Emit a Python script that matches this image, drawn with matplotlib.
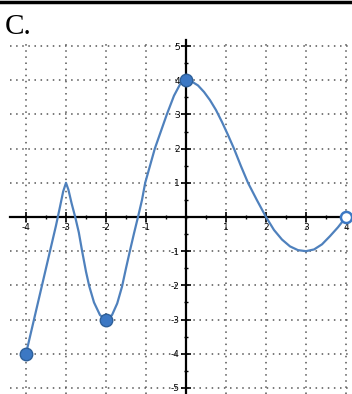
import matplotlib.pyplot as plt
from matplotlib.lines import Line2D
import numpy as np

# Points read along the graph of f on [-4, 4]
curve_x = [-4.0, -3.75, -3.5, -3.25, -3.15, -3.07, -3.0, -2.94, -2.86, -2.77,
           -2.68, -2.6, -2.5, -2.42, -2.3, -2.15, -2.0, -1.85, -1.72, -1.6,
           -1.5, -1.4, -1.3, -1.2, -1.1, -1.02, -0.9, -0.78, -0.63, -0.48,
           -0.3, -0.15, 0.0, 0.15, 0.3, 0.45, 0.6, 0.75, 0.9, 1.05, 1.2,
           1.37, 1.55, 1.77, 2.0, 2.2, 2.4, 2.6, 2.8, 3.0, 3.2, 3.4, 3.6,
           3.8, 4.0]
curve_y = [-4.0, -2.75, -1.5, -0.25, 0.3, 0.75, 1.0, 0.8, 0.4, 0.0,
           -0.45, -0.98, -1.6, -2.02, -2.5, -2.87, -3.0, -2.87, -2.53, -2.04,
           -1.5, -0.98, -0.48, 0.0, 0.5, 1.0, 1.5, 2.0, 2.5, 3.0,
           3.55, 3.88, 4.0, 3.96, 3.85, 3.66, 3.42, 3.13, 2.78, 2.4, 2.0,
           1.5, 1.0, 0.5, 0.0, -0.38, -0.66, -0.86, -0.97, -1.0, -0.95, -0.8,
           -0.56, -0.3, 0.0]

closed_x = [-4, -2, 0]
closed_y = [-4, -3, 4]
open_x = [4]
open_y = [0]

ticks = [-4, -3, -2, -1, 1, 2, 3, 4]
yticks = [-5, -4, -3, -2, -1, 1, 2, 3, 4, 5]

line_blue = "#4f81bd"
dot_blue = "#3c78c4"

fig = plt.figure(figsize=(3.52, 3.94), dpi=100)
ax = fig.add_axes([10 / 352, 0, 342 / 352, 354 / 394])
ax.set_xlim(-4.4, 4.15)
ax.set_ylim(-5.18, 5.18)

# dotted grid
for v in range(-4, 5):
    ax.axvline(v, color="#555555", lw=1.1, ls=(0, (1, 3)), zorder=1)
for h in range(-5, 6):
    if h != 0:
        ax.axhline(h, color="#555555", lw=1.1, ls=(0, (1, 3)), zorder=1)

# axes through the origin
for side in ["top", "right"]:
    ax.spines[side].set_visible(False)
ax.spines["left"].set_position(("data", 0))
ax.spines["bottom"].set_position(("data", 0))
ax.spines["left"].set_linewidth(1.6)
ax.spines["bottom"].set_linewidth(1.6)
ax.spines["left"].set_zorder(2)
ax.spines["bottom"].set_zorder(2)

ax.set_xticks(ticks)
ax.set_yticks(yticks)
ax.set_xticks(np.arange(-4, 4.01, 0.5), minor=True)
ax.set_yticks(np.arange(-5, 5.01, 0.5), minor=True)
ax.tick_params(which="major", direction="inout", length=7, width=1.2,
               labelsize=6.5, colors="black", pad=1)
ax.tick_params(which="minor", direction="inout", length=3, width=1)
ax.set_xticklabels([str(t) for t in ticks])
ax.set_yticklabels([str(t) for t in yticks])

ax.plot(curve_x, curve_y, color=line_blue, lw=1.6, zorder=3,
        solid_joinstyle="round", solid_capstyle="round")
ax.plot(closed_x, closed_y, "o", ms=9, mfc=dot_blue, mec="#2d5f99",
        mew=1, zorder=4, clip_on=False)
ax.plot(open_x, open_y, "o", ms=8, mfc="white", mec=dot_blue, mew=1.8,
        zorder=4, clip_on=False)

fig.add_artist(Line2D([0, 1], [1 - 2 / 394, 1 - 2 / 394], color="black",
                      lw=2.5, transform=fig.transFigure))
fig.text(5 / 352, 1 - 34 / 394, "C.", fontsize=21, family="Liberation Serif",
         color="black")

fig.savefig("out.png", dpi=100)
